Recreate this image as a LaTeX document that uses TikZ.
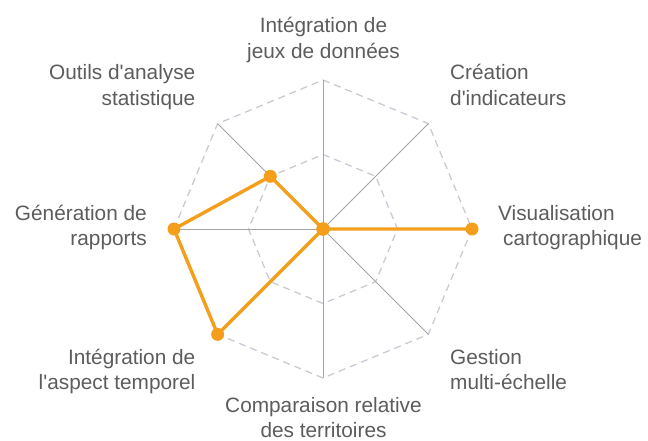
\documentclass[tikz,border=0pt]{standalone}
\usepackage{fontspec}
\setmainfont{Liberation Sans}
\usetikzlibrary{calc}
\definecolor{dataorange}{RGB}{245,158,27}
\definecolor{labelgray}{RGB}{92,92,92}
\definecolor{gridgray}{RGB}{200,203,212}
\definecolor{spokegray}{RGB}{165,165,165}
\tikzset{
  gridline/.style={draw=gridgray, line width=1.3pt, dash pattern=on 7pt off 5pt},
  spokeline/.style={draw=spokegray, line width=0.9pt},
  dataline/.style={draw=dataorange, line width=3.4pt, line join=round},
  datadot/.style={fill=dataorange},
  lbl/.style={text=labelgray, inner sep=0pt, font=\fontsize{20.8}{25.5}\selectfont},
}
\begin{document}
\begin{tikzpicture}[x=1pt,y=-1pt]
\useasboundingbox (0,0) rectangle (648,441);
\coordinate (C) at (323,229);
\def\R{149}
\foreach \i/\a/\v in {1/90/0,2/45/0,3/0/1,4/-45/0,5/-90/0,6/-135/1,7/180/1,8/135/0.5}{
  \coordinate (o\i) at ($(C)+({\R*cos(\a)},{-\R*sin(\a)})$);
  \coordinate (h\i) at ($(C)+({0.5*\R*cos(\a)},{-0.5*\R*sin(\a)})$);
  \coordinate (d\i) at ($(C)+({\v*\R*cos(\a)},{-\v*\R*sin(\a)})$);
}
% grid
\draw[gridline] (o1)--(o2)--(o3)--(o4)--(o5)--(o6)--(o7)--(o8)--cycle;
\draw[gridline] (h1)--(h2)--(h3)--(h4)--(h5)--(h6)--(h7)--(h8)--cycle;
\foreach \i in {1,...,8}{\draw[spokeline] (C)--(o\i);}
% data
\draw[dataline] (d1)--(d2)--(d3)--(d4)--(d5)--(d6)--(d7)--(d8)--cycle;
\foreach \i in {1,...,8}{\fill[datadot] (d\i) circle[radius=6.5pt];}
% labels
\node[lbl, anchor=base] (l1) at (323.5,33) {\begin{tabular}[t]{@{}c@{}}Intégration de\\jeux de données\end{tabular}};
\node[lbl, anchor=base west] (l2) at (450,80) {\begin{tabular}[t]{@{}l@{}}Création\\ d\textquotesingle indicateurs\end{tabular}};
\node[lbl, anchor=base west] (l3) at (498,220) {\begin{tabular}[t]{@{}l@{}}Visualisation\\ \hspace{5pt}cartographique\end{tabular}};
\node[lbl, anchor=base west] (l4) at (450,364) {\begin{tabular}[t]{@{}l@{}}Gestion\\multi-échelle\end{tabular}};
\node[lbl, anchor=base] (l5) at (323.5,412) {\begin{tabular}[t]{@{}c@{}}Comparaison relative\\des territoires\end{tabular}};
\node[lbl, anchor=base east] (l6) at (195.5,364) {\begin{tabular}[t]{@{}r@{}}Intégration de\\l\textquotesingle aspect temporel\end{tabular}};
\node[lbl, anchor=base east] (l7) at (147,220) {\begin{tabular}[t]{@{}r@{}}Génération de\\rapports\end{tabular}};
\node[lbl, anchor=base east] (l8) at (195.5,80) {\begin{tabular}[t]{@{}r@{}}Outils d\textquotesingle analyse\\statistique\end{tabular}};
\end{tikzpicture}
\end{document}
